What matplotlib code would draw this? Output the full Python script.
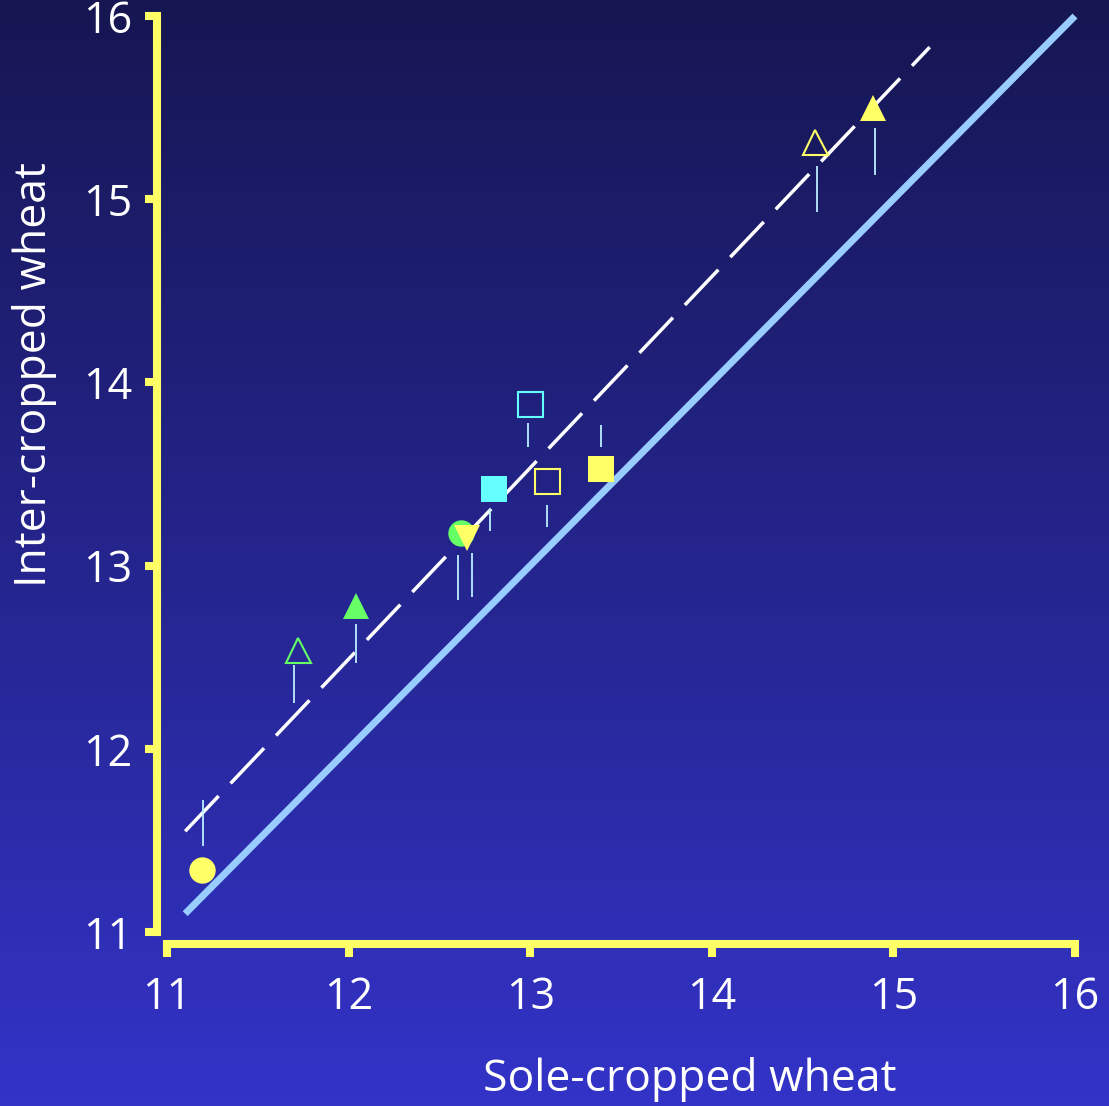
import matplotlib
matplotlib.use("Agg")
import matplotlib.pyplot as plt
import numpy as np

### Sole- vs inter-cropped wheat

# marker: (x, y, shape, colour, filled)
sole = [11.19, 11.72, 12.04, 12.62, 12.65, 12.80, 13.00, 13.09, 13.39, 14.57, 14.89]
inter = [11.34, 12.54, 12.78, 13.18, 13.15, 13.42, 13.88, 13.46, 13.53, 15.31, 15.50]
shapes = ['o', '^', '^', 'o', 'v', 's', 's', 's', 's', '^', '^']
colours = ['#FFFF66', '#66FF66', '#66FF66', '#66FF66', '#FFFF66', '#66FFFF',
           '#66FFFF', '#FFFF66', '#FFFF66', '#FFFF66', '#FFFF66']
filled = [True, False, True, True, True, True, False, False, True, False, True]

# the little vertical bars under each marker
bar_x = [11.20, 11.70, 12.04, 12.60, 12.68, 12.78, 12.99, 13.09, 13.39, 14.58, 14.90]
bar_lo = [11.47, 12.25, 12.47, 12.81, 12.83, 13.19, 13.65, 13.21, 13.65, 14.93, 15.13]
bar_hi = [11.72, 12.46, 12.68, 13.06, 13.07, 13.31, 13.78, 13.33, 13.77, 15.18, 15.39]

# 1:1 line and fitted (dashed) line
one_x = [11.1, 16.0]
one_y = [11.1, 16.0]
fit_x = [11.1, 15.2]
fit_y = [11.55, 15.83]

ticks = [11, 12, 13, 14, 15, 16]

W, H = 1109, 1106
fig = plt.figure(figsize=(W / 100, H / 100), dpi=100)
plt.rcParams['font.family'] = ['Open Sans', 'DejaVu Sans']

# background gradient
bg = fig.add_axes([0, 0, 1, 1], zorder=-5)
top = np.array([22, 22, 82]) / 255
bot = np.array([51, 51, 200]) / 255
t = np.linspace(0, 1, 256)[:, None]
grad = top[None, :] * (1 - t) + bot[None, :] * t
bg.imshow(grad[:, None, :], aspect='auto', extent=[0, 1, 0, 1])
bg.axis('off')

ax = fig.add_axes([167 / W, (H - 932) / H, 908 / W, 916 / H])
ax.patch.set_alpha(0)
ax.set_xlim(11, 16)
ax.set_ylim(11, 16)

yellow = '#FFFF66'
for s in ['top', 'right']:
    ax.spines[s].set_visible(False)
# outward is in points (dpi 100): ~10 px and ~12 px
ax.spines['left'].set_position(('outward', 7.2))
ax.spines['bottom'].set_position(('outward', 8.6))
for s in ['left', 'bottom']:
    ax.spines[s].set_color(yellow)
    ax.spines[s].set_linewidth(5.8)
ax.tick_params(axis='both', colors=yellow, width=5.8, length=9, labelcolor='white',
               labelsize=31)
ax.tick_params(axis='y', pad=9)
ax.tick_params(axis='x', pad=14)
ax.set_xticks(ticks)
ax.set_yticks(ticks)

ax.plot(one_x, one_y, color='#99CCFF', lw=5, solid_capstyle='butt', clip_on=False, zorder=2)
ax.plot(fit_x, fit_y, color='white', lw=2.5, dashes=(14, 5), clip_on=False, zorder=3)

ax.vlines(bar_x, bar_lo, bar_hi, color='#BBEEFF', lw=1.3, zorder=3)

for x, y, m, c, f in zip(sole, inter, shapes, colours, filled):
    ms = 19
    if f:
        ax.plot(x, y, marker=m, ms=ms, color=c, mec=c, mew=0, ls='none', zorder=4, clip_on=False)
    else:
        ax.plot(x, y, marker=m, ms=ms - 1, mfc='none', mec=c, mew=1.5, ls='none', zorder=4, clip_on=False)

fig.text(690 / W, 1 - 1080 / H, 'Sole-cropped wheat', color='white', fontsize=32,
         ha='center', va='center')
fig.text(35 / W, 1 - 375 / H, 'Inter-cropped wheat', color='white', fontsize=32,
         ha='center', va='center', rotation=90)

fig.savefig('out.png', dpi=100)
